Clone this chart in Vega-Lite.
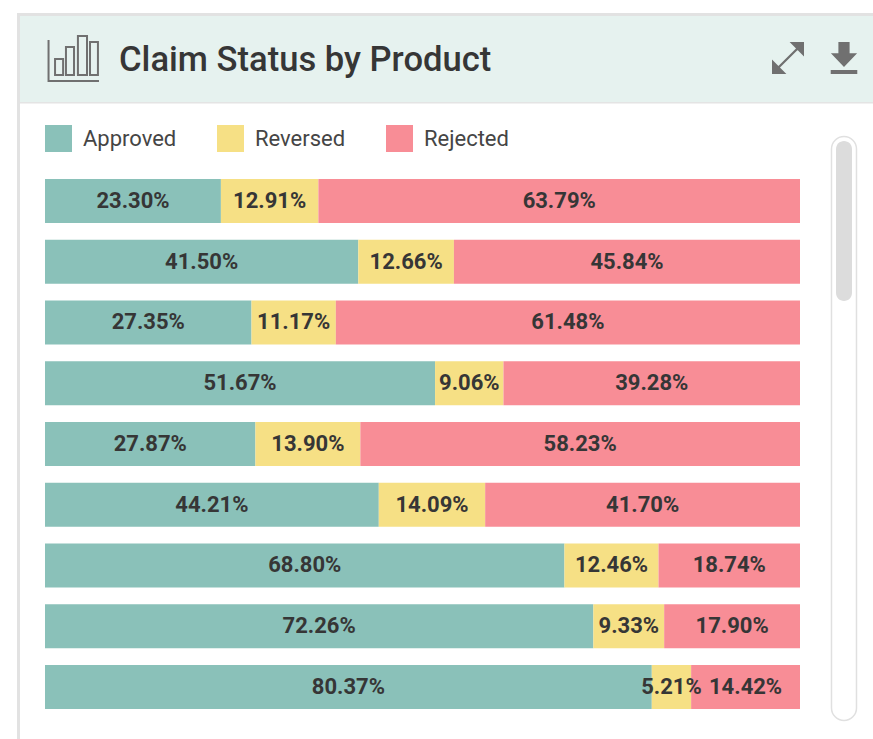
{
"$schema":"https://vega.github.io/schema/vega-lite/v6.json",
"width":873,"height":739,
"autosize":{"type":"fit","contains":"padding"},
"padding":0,
"background":"#ffffff",
"config":{"view":{"stroke":null},"axis":{"disable":true}},
"datasets":{
"one":[{"part":"frame"}],
"claims":[
{"row":1,"status":"Approved","seq":1,"share":0.2330},{"row":1,"status":"Reversed","seq":2,"share":0.1291},{"row":1,"status":"Rejected","seq":3,"share":0.6379},
{"row":2,"status":"Approved","seq":1,"share":0.4150},{"row":2,"status":"Reversed","seq":2,"share":0.1266},{"row":2,"status":"Rejected","seq":3,"share":0.4584},
{"row":3,"status":"Approved","seq":1,"share":0.2735},{"row":3,"status":"Reversed","seq":2,"share":0.1117},{"row":3,"status":"Rejected","seq":3,"share":0.6148},
{"row":4,"status":"Approved","seq":1,"share":0.5167},{"row":4,"status":"Reversed","seq":2,"share":0.0906},{"row":4,"status":"Rejected","seq":3,"share":0.3928},
{"row":5,"status":"Approved","seq":1,"share":0.2787},{"row":5,"status":"Reversed","seq":2,"share":0.1390},{"row":5,"status":"Rejected","seq":3,"share":0.5823},
{"row":6,"status":"Approved","seq":1,"share":0.4421},{"row":6,"status":"Reversed","seq":2,"share":0.1409},{"row":6,"status":"Rejected","seq":3,"share":0.4170},
{"row":7,"status":"Approved","seq":1,"share":0.6880},{"row":7,"status":"Reversed","seq":2,"share":0.1246},{"row":7,"status":"Rejected","seq":3,"share":0.1874},
{"row":8,"status":"Approved","seq":1,"share":0.7226},{"row":8,"status":"Reversed","seq":2,"share":0.0933},{"row":8,"status":"Rejected","seq":3,"share":0.1790},
{"row":9,"status":"Approved","seq":1,"share":0.8037},{"row":9,"status":"Reversed","seq":2,"share":0.0521},{"row":9,"status":"Rejected","seq":3,"share":0.1442}
]},
"layer":[
{"data":{"name":"one"},"mark":{"type":"rect","color":"#e6f2ef"},"encoding":{"x":{"datum":-0.03311,"type":"quantitative"},"x2":{"datum":1.09669},"y":{"datum":-2.04527,"type":"quantitative"},"y2":{"datum":-0.62963}}},
{"data":{"name":"one"},"mark":{"type":"rect","color":"#e2e2e2"},"encoding":{"x":{"datum":-0.03709,"type":"quantitative"},"x2":{"datum":-0.03311},"y":{"datum":-2.09465,"type":"quantitative"},"y2":{"datum":9.85597}}},
{"data":{"name":"one"},"mark":{"type":"rect","color":"#e2e2e2"},"encoding":{"x":{"datum":-0.03709,"type":"quantitative"},"x2":{"datum":1.09669},"y":{"datum":-2.09465,"type":"quantitative"},"y2":{"datum":-2.04527}}},
{"data":{"name":"one"},"mark":{"type":"rect","color":"#e4e4e4"},"encoding":{"x":{"datum":-0.03311,"type":"quantitative"},"x2":{"datum":1.09669},"y":{"datum":-0.62963,"type":"quantitative"},"y2":{"datum":-0.60494}}},
{"data":{"name":"one"},"mark":{"type":"rect","fill":"#ffffff","stroke":"#e0e0e0","strokeWidth":1.5,"cornerRadius":13},"encoding":{"x":{"datum":1.04172,"type":"quantitative"},"x2":{"datum":1.07483},"y":{"datum":-0.06173,"type":"quantitative"},"y2":{"datum":9.55144}}},
{"data":{"name":"one"},"mark":{"type":"rect","color":"#dcdcdc","cornerRadius":8},"encoding":{"x":{"datum":1.04768,"type":"quantitative"},"x2":{"datum":1.06887},"y":{"datum":0.01235,"type":"quantitative"},"y2":{"datum":2.64609}}},
{"data":{"name":"one"},"mark":{"type":"point","filled":false,"stroke":"#707070","strokeWidth":2,"opacity":1,"size":2704,"shape":"M-0.96 -0.71L-0.96 0.865L0.98 0.865M-0.71 0.635L-0.71 0.02L-0.40 0.02L-0.40 0.635ZM-0.29 0.635L-0.29 -0.44L0.02 -0.44L0.02 0.635ZM0.17 0.635L0.17 -0.865L0.52 -0.865L0.52 0.635ZM0.635 0.635L0.635 -0.635L0.94 -0.635L0.94 0.635Z"},"encoding":{"x":{"datum":0.03775,"type":"quantitative"},"y":{"datum":-1.34568,"type":"quantitative"}}},
{"data":{"name":"one"},"mark":{"type":"point","filled":true,"fill":"#707070","opacity":1,"size":1024,"shape":"M1 -1L0.1 -1L1 -0.1ZM-1 1L-1 0.1L-0.1 1ZM0.5 -0.6L0.6 -0.5L-0.5 0.6L-0.6 0.5Z"},"encoding":{"x":{"datum":0.98411,"type":"quantitative"},"y":{"datum":-1.35391,"type":"quantitative"}}},
{"data":{"name":"one"},"mark":{"type":"point","filled":true,"fill":"#707070","opacity":1,"size":1024,"shape":"M-0.35 -1L0.35 -1L0.35 -0.3L0.82 -0.3L0 0.56L-0.82 -0.3L-0.35 -0.3ZM-0.83 0.75L0.83 0.75L0.83 1L-0.83 1Z"},"encoding":{"x":{"datum":1.05828,"type":"quantitative"},"y":{"datum":-1.35391,"type":"quantitative"}}},
{"data":{"name":"one"},"mark":{"type":"text","font":"Roboto","fontSize":34.6,"fontWeight":500,"color":"#363636","align":"left","baseline":"alphabetic"},"encoding":{"x":{"datum":0.09801,"type":"quantitative"},"y":{"datum":-1.13992,"type":"quantitative"},"text":{"value":"Claim Status by Product"}}},
{"data":{"name":"claims"},"mark":{"type":"bar","orient":"horizontal","size":44},"encoding":{
"x":{"field":"share","type":"quantitative","stack":"normalize","scale":{"domain":[-0.0596,1.09669],"nice":false,"zero":false}},
"y":{"field":"row","type":"quantitative","scale":{"domain":[-2.3086,9.85597],"reverse":true,"nice":false,"zero":false,"padding":0}},
"order":{"field":"seq","type":"ordinal"},
"color":{"field":"status","type":"nominal","scale":{"domain":["Approved","Reversed","Rejected"],"range":["#8ac1b9","#f6e085","#f88d96"]},
"legend":{"orient":"none","legendX":45,"legendY":125,"direction":"horizontal","title":null,"symbolType":"square","symbolSize":729,"symbolStrokeWidth":0,"labelFontSize":22,"labelFont":"Roboto","labelColor":"#454545","labelOffset":11,"columnPadding":40,"gridAlign":"each","padding":0}}
}},
{"data":{"name":"claims"},"mark":{"type":"text","font":"Roboto","fontWeight":"bold","fontSize":22,"color":"#363636","align":"center","baseline":"middle"},"encoding":{
"x":{"field":"share","type":"quantitative","stack":"normalize","bandPosition":0.5},
"y":{"field":"row","type":"quantitative"},
"order":{"field":"seq","type":"ordinal"},
"detail":{"field":"status"},
"text":{"field":"share","type":"quantitative","format":".2%"}
}}
]
}
